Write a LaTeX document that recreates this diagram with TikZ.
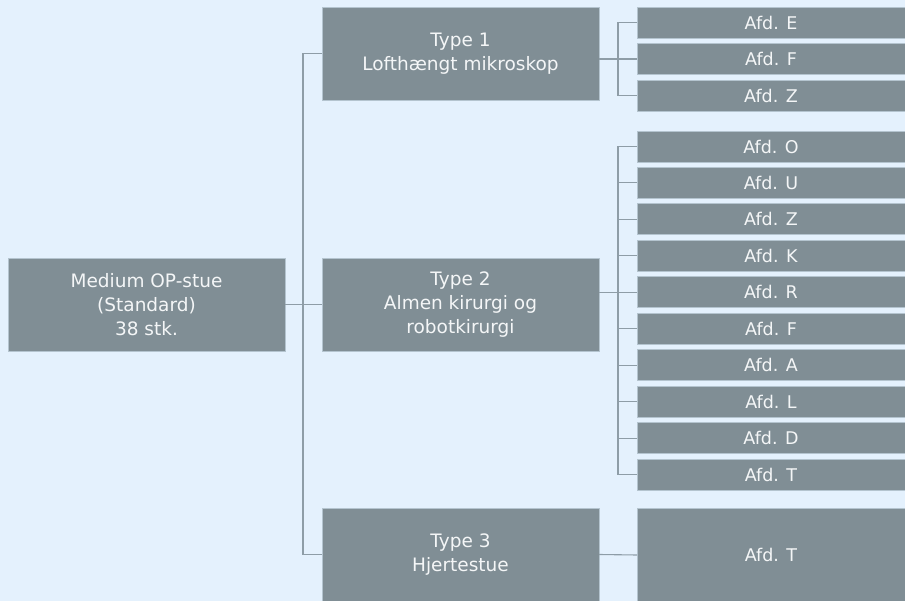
\documentclass[tikz,border=0pt]{standalone}
\usepackage{fontspec}
\setmainfont{DejaVu Sans}
\usetikzlibrary{positioning,calc}
\definecolor{bgblue}{HTML}{E4F1FD}
\definecolor{boxgray}{HTML}{808E95}
\definecolor{boxedge}{HTML}{B4C4CF}
\definecolor{linkgray}{HTML}{8E9DA7}
\definecolor{boxtext}{HTML}{F4F6F7}

\begin{document}
\begin{tikzpicture}[
    x=1pt, y=-1pt,
    box/.style={draw=boxedge, fill=boxgray, line width=0.8pt, minimum width=277pt, minimum height=93pt, inner sep=0pt, outer sep=0pt, align=center, text=boxtext, font=\fontsize{18.5}{24}\selectfont},
    leaf/.style={box, minimum width=268pt, minimum height=31pt, font=\fontsize{17.5}{24}\selectfont},
    link/.style={draw=linkgray, line width=1.1pt}
]
    \useasboundingbox (0,0) rectangle (905,601);
    \fill[bgblue] (0,0) rectangle (905,601);

    % main and types
    \node[box] (root) at (146.5,304.5) {Medium OP-stue\\(Standard)\\38 stk.};
    \node[box] (t1) at (460.5,53.5) {Type 1\\Lofthængt mikroskop};
    \node[box] (t2) at (460.5,304.5) {Type 2\\Almen kirurgi og\\robotkirurgi};
    \node[box] (t3) at (460.5,554.5) {Type 3\\Hjertestue};

    % departments
    \foreach \name [count=\i] in {E,F,Z}
        \node[leaf] (a-\i) at (771,{22.5+(\i-1)*36.5}) {Afd. \name};
    \foreach \name [count=\i] in {O,U,Z,K,R,F,A,L,D,T}
        \node[leaf] (b-\i) at (771,{146.5+(\i-1)*36.45}) {Afd. \name};
    \node[leaf, minimum height=93pt] (c-1) at (771,555) {Afd. T};

    % connectors
    \coordinate (j0) at (303,0);
    \coordinate (j1) at (618,0);
    \draw[link] (root.east) -- (t2.west);
    \draw[link] (t1.west) -- (t1.west -| j0) -- (t3.west -| j0) -- (t3.west);

    \draw[link] (a-2.west -| t1.east) -- (a-2.west);
    \draw[link] (a-1.west) -- (a-1.west -| j1) -- (a-3.west -| j1) -- (a-3.west);
    \draw[link] (a-2.west -| j1) -- (a-2.west);

    \draw[link] (b-5.west -| t2.east) -- (b-5.west);
    \draw[link] (b-1.west) -- (b-1.west -| j1) -- (b-10.west -| j1) -- (b-10.west);
    \foreach \i in {2,...,9}
        \draw[link] (b-\i.west -| j1) -- (b-\i.west);

    \draw[link] (t3.east) -- (c-1.west);
\end{tikzpicture}
\end{document}
